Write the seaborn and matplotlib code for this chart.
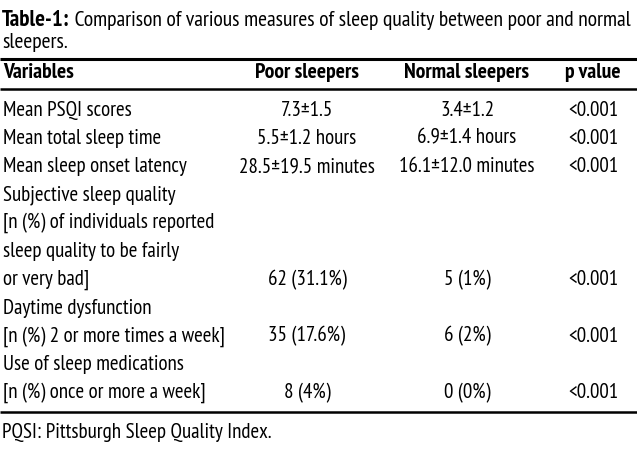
"""
Table-1 redrawn as a figure: sleep quality measures, poor vs normal sleepers.
"""
import matplotlib
matplotlib.use('Agg')
import matplotlib.pyplot as plt
import seaborn as sns

# table content
title_bold = 'Table-1:'
title_rest = ' Comparison of various measures of sleep quality between poor and normal'
title_line2 = 'sleepers.'
headers = ['Variables', 'Poor sleepers', 'Normal sleepers', 'p value']
variables = [
    ['Mean PSQI scores'],
    ['Mean total sleep time'],
    ['Mean sleep onset latency'],
    ['Subjective sleep quality', '[n (%) of individuals reported',
     'sleep quality to be fairly', 'or very bad]'],
    ['Daytime dysfunction', '[n (%) 2 or more times a week]'],
    ['Use of sleep medications', '[n (%) once or more a week]'],
]
poor = ['7.3±1.5', '5.5±1.2 hours', '28.5±19.5 minutes',
        '62 (31.1%)', '35 (17.6%)', '8 (4%)']
normal = ['3.4±1.2', '6.9±1.4 hours', '16.1±12.0 minutes',
          '5 (1%)', '6 (2%)', '0 (0%)']
pvals = ['<0.001'] * 6
footnote = 'PQSI: Pittsburgh Sleep Quality Index.'

sns.set_theme(style='white')
plt.rcParams['font.family'] = ['PT Sans Narrow', 'DejaVu Sans']
plt.rcParams['text.color'] = 'black'

W, H = 637, 452
fig = plt.figure(figsize=(W / 100, H / 100), dpi=100)
ax = fig.add_axes([0, 0, 1, 1])
ax.set_xlim(0, W)
ax.set_ylim(H, 0)
ax.axis('off')
renderer = fig.canvas.get_renderer()


def px_extent(artist):
    bb = artist.get_window_extent(renderer=renderer)
    return bb.x1 - bb.x0, bb.x1


def width_at12(text, **kw):
    probe = ax.text(0, 0, text, fontsize=12, **kw)
    w, _ = px_extent(probe)
    probe.remove()
    return w


fs = 12 * 184 / width_at12('Mean sleep onset latency')
# title line: bold label slightly larger, whole line spans ~631 px
bold_ratio = 1.06
wb = width_at12(title_bold, fontweight='bold')
wr = width_at12(title_rest)
fs_title = 12 * 631 / (bold_ratio * wb + wr)
fs_bold = fs_title * bold_ratio

col_x = [3, 307, 467, 593]
row0, step = 110, 28.3

# title, bold label then the rest of the sentence right after it
t = ax.text(2, 21, title_bold, fontsize=fs_bold, fontweight='bold', va='center', ha='left')
_, x1 = px_extent(t)
x_end = ax.transData.inverted().transform((x1, 0))[0]
ax.text(x_end, 21, title_rest, fontsize=fs_title, va='center', ha='left')
ax.text(2, 43, title_line2, fontsize=fs_title, va='center', ha='left')

# rules
ax.hlines(60, 0, W, color='black', lw=2.2)
ax.hlines(90, 0, W, color='black', lw=1.8)
ax.hlines(413, 0, W, color='black', lw=1.8)

# header
for i, h in enumerate(headers):
    ax.text(col_x[i], 73, h, fontsize=fs * 1.03, fontweight='bold', va='center',
            ha='left' if i == 0 else 'center')

# body
line = 0
for var, p, n, pv in zip(variables, poor, normal, pvals):
    for txt in var:
        ax.text(col_x[0], row0 + step * line, txt, fontsize=fs, va='center', ha='left')
        line += 1
    y = row0 + step * (line - 1)
    ax.text(col_x[1], y, p, fontsize=fs, va='center', ha='center')
    ax.text(col_x[2], y, n, fontsize=fs, va='center', ha='center')
    ax.text(col_x[3], y, pv, fontsize=fs, va='center', ha='center')

ax.text(2, 433, footnote, fontsize=fs, va='center', ha='left')

fig.savefig('out.png', dpi=100)
